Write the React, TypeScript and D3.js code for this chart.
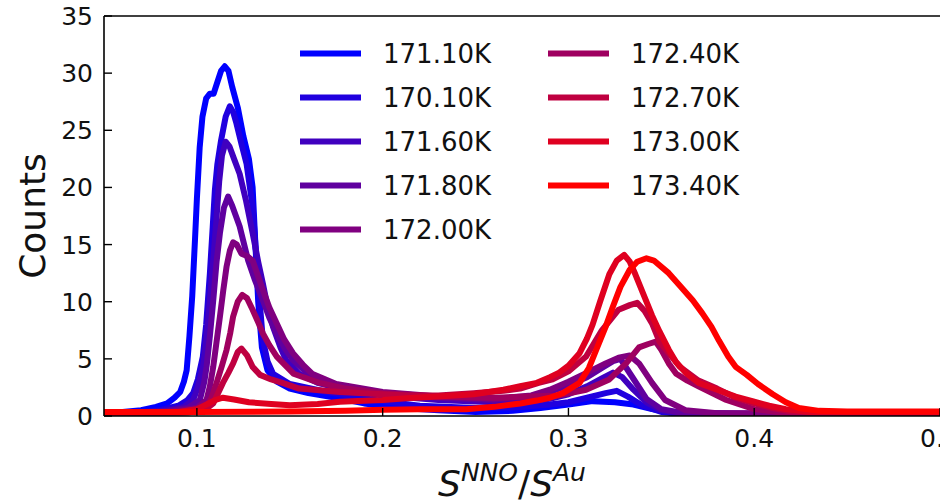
import React from "react";
import * as d3 from "d3";

const labels = ["171.10K", "170.10K", "171.60K", "171.80K", "172.00K", "172.40K", "172.70K", "173.00K", "173.40K"];

const s0: [number, number][] = [[0.05,0.3],[0.06,0.35],[0.07,0.5],[0.078,0.8],[0.084,1.1],[0.088,1.6],[0.091,2.1],[0.093,3.0],[0.0945,4.0],[0.096,7.0],[0.0975,10.5],[0.099,15.5],[0.1,19.0],[0.1015,23.5],[0.103,26.2],[0.105,27.8],[0.107,28.2],[0.109,28.2],[0.111,29.2],[0.113,30.2],[0.115,30.6],[0.117,30.2],[0.119,28.8],[0.122,27.0],[0.125,24.5],[0.128,22.5],[0.130,20.0],[0.1315,15.0],[0.133,10.0],[0.135,6.0],[0.138,4.0],[0.143,3.0],[0.15,2.4],[0.16,2.0],[0.175,1.6],[0.19,1.1],[0.21,0.7],[0.23,0.5],[0.25,0.35],[0.27,0.45],[0.285,0.7],[0.3,1.0],[0.313,1.3],[0.325,1.2],[0.335,1.0],[0.345,0.6],[0.355,0.3],[0.37,0.15],[0.4,0.15],[0.5,0.2]];
const s1: [number, number][] = [[0.05,0.25],[0.07,0.35],[0.08,0.5],[0.09,0.9],[0.095,1.4],[0.098,2.0],[0.1005,3.2],[0.1032,5.2],[0.105,8.0],[0.107,12.5],[0.1085,16.5],[0.1097,19.8],[0.111,22.0],[0.113,24.1],[0.1155,26.2],[0.1177,27.1],[0.1195,26.6],[0.1213,25.6],[0.124,23.8],[0.1267,22.1],[0.13,18.3],[0.132,13.9],[0.134,9.6],[0.1355,6.7],[0.138,4.8],[0.141,3.7],[0.15,2.8],[0.17,2.1],[0.2,1.3],[0.22,0.9],[0.25,0.7],[0.27,0.75],[0.29,1.0],[0.30,1.2],[0.31,1.6],[0.32,2.0],[0.326,2.2],[0.332,1.7],[0.34,0.9],[0.35,0.35],[0.36,0.2],[0.4,0.15],[0.5,0.2]];
const s2: [number, number][] = [[0.05,0.25],[0.07,0.3],[0.085,0.5],[0.093,0.8],[0.098,1.4],[0.1005,2.5],[0.1033,4.3],[0.105,6.5],[0.107,10.1],[0.109,14.0],[0.1106,17.4],[0.112,20.5],[0.1135,22.8],[0.1155,24.0],[0.1175,23.6],[0.12,22.5],[0.123,21.2],[0.1265,18.8],[0.13,16.0],[0.133,13.5],[0.1355,11.6],[0.138,9.6],[0.141,7.8],[0.145,6.0],[0.148,4.9],[0.155,3.7],[0.165,2.9],[0.18,2.3],[0.2,1.8],[0.23,1.4],[0.26,1.2],[0.28,1.3],[0.29,1.5],[0.30,1.9],[0.31,2.6],[0.318,3.3],[0.324,3.8],[0.329,3.4],[0.335,2.3],[0.342,1.2],[0.35,0.5],[0.36,0.25],[0.4,0.2],[0.5,0.2]];
const s3: [number, number][] = [[0.05,0.25],[0.08,0.35],[0.095,0.7],[0.1016,1.4],[0.104,3.0],[0.1052,4.3],[0.107,7.0],[0.1088,10.1],[0.1106,13.5],[0.1124,16.0],[0.1145,18.2],[0.1168,19.2],[0.119,18.4],[0.123,16.6],[0.1276,13.6],[0.131,12.0],[0.1356,10.1],[0.139,8.6],[0.143,7.2],[0.147,6.0],[0.1517,4.9],[0.162,3.4],[0.175,2.7],[0.2,2.0],[0.23,1.6],[0.26,1.4],[0.28,1.7],[0.29,2.1],[0.30,2.7],[0.31,3.4],[0.318,4.2],[0.324,4.8],[0.328,5.0],[0.334,3.5],[0.342,1.5],[0.35,0.6],[0.36,0.3],[0.4,0.2],[0.5,0.2]];
const s4: [number, number][] = [[0.05,0.25],[0.085,0.35],[0.1,0.7],[0.1052,1.4],[0.107,2.6],[0.1088,4.3],[0.1106,6.5],[0.1124,8.7],[0.1142,11.0],[0.116,13.1],[0.1178,14.5],[0.1195,15.2],[0.1215,15.0],[0.124,14.2],[0.127,14.0],[0.130,13.6],[0.1328,12.3],[0.1356,11.0],[0.139,9.5],[0.143,8.1],[0.147,6.7],[0.1517,5.5],[0.157,4.5],[0.162,3.7],[0.175,2.8],[0.2,2.1],[0.23,1.7],[0.26,1.5],[0.28,1.8],[0.29,2.3],[0.30,3.0],[0.31,3.8],[0.32,4.6],[0.327,5.1],[0.333,5.3],[0.338,4.6],[0.345,2.9],[0.352,1.4],[0.363,0.5],[0.38,0.25],[0.5,0.2]];
const s5: [number, number][] = [[0.05,0.25],[0.09,0.3],[0.1,0.4],[0.105,0.8],[0.108,1.6],[0.1106,2.9],[0.1135,4.4],[0.116,5.8],[0.118,7.3],[0.1195,8.7],[0.122,10.0],[0.1244,10.6],[0.127,10.3],[0.130,9.3],[0.133,8.2],[0.1356,7.2],[0.139,6.2],[0.143,5.2],[0.152,3.7],[0.166,2.9],[0.18,2.4],[0.2,2.0],[0.23,1.7],[0.26,1.6],[0.28,1.7],[0.295,1.8],[0.3095,2.3],[0.322,3.2],[0.331,4.6],[0.338,6.0],[0.343,6.3],[0.347,6.5],[0.35,5.8],[0.354,4.6],[0.358,3.7],[0.364,3.1],[0.37,2.6],[0.385,1.4],[0.4,0.6],[0.415,0.3],[0.5,0.25]];
const s6: [number, number][] = [[0.05,0.25],[0.095,0.3],[0.104,0.5],[0.1088,1.1],[0.114,2.9],[0.117,3.8],[0.1195,4.6],[0.122,5.6],[0.124,5.9],[0.127,5.3],[0.130,4.3],[0.134,3.6],[0.14,3.2],[0.146,2.9],[0.155,2.4],[0.177,2.1],[0.2,1.9],[0.213,1.8],[0.23,1.8],[0.249,2.0],[0.265,2.2],[0.274,2.4],[0.284,2.9],[0.2915,3.2],[0.30,3.9],[0.3095,5.2],[0.318,7.5],[0.327,9.3],[0.333,9.7],[0.337,9.9],[0.341,9.2],[0.345,8.1],[0.349,6.5],[0.354,5.5],[0.36,4.3],[0.37,3.1],[0.38,2.4],[0.39,1.6],[0.40,1.1],[0.41,0.7],[0.42,0.4],[0.44,0.3],[0.5,0.3]];
const s7: [number, number][] = [[0.05,0.3],[0.09,0.35],[0.1,0.6],[0.105,1.0],[0.11,1.4],[0.114,1.6],[0.12,1.45],[0.128,1.2],[0.14,1.05],[0.15,0.95],[0.165,1.05],[0.177,1.25],[0.2,1.4],[0.213,1.55],[0.23,1.7],[0.249,1.9],[0.265,2.3],[0.274,2.6],[0.283,2.9],[0.29,3.4],[0.295,3.8],[0.30,4.4],[0.306,5.5],[0.31,6.8],[0.313,8.0],[0.317,10.0],[0.322,12.4],[0.326,13.6],[0.330,14.1],[0.333,13.5],[0.336,12.4],[0.34,10.8],[0.345,8.8],[0.349,7.4],[0.354,5.8],[0.358,4.7],[0.363,3.8],[0.37,2.9],[0.38,2.3],[0.39,1.7],[0.399,1.3],[0.408,0.9],[0.417,0.6],[0.43,0.35],[0.5,0.3]];
const s8: [number, number][] = [[0.05,0.35],[0.1,0.35],[0.15,0.4],[0.18,0.45],[0.2,0.55],[0.22,0.6],[0.245,0.6],[0.26,0.8],[0.274,1.1],[0.283,1.35],[0.29,1.6],[0.297,2.0],[0.302,2.5],[0.306,2.9],[0.311,4.2],[0.315,5.8],[0.32,7.8],[0.324,9.6],[0.328,11.3],[0.333,12.8],[0.337,13.5],[0.342,13.8],[0.346,13.6],[0.354,12.5],[0.36,11.4],[0.367,10.1],[0.372,9.0],[0.377,7.8],[0.381,6.6],[0.386,5.2],[0.39,4.3],[0.396,3.6],[0.402,2.8],[0.41,1.9],[0.417,1.2],[0.424,0.7],[0.435,0.45],[0.45,0.4],[0.5,0.4]];

const seriesList = [s0, s1, s2, s3, s4, s5, s6, s7, s8];
const xTicks = [0.1, 0.2, 0.3, 0.4, 0.5];
const yTicks = [0, 5, 10, 15, 20, 25, 30, 35];

const W = 940, H = 504;
const L = 104, R = 940, T = 16, B = 416;
const FONT = "DejaVu Sans, Liberation Sans, sans-serif";

export default function App() {
  const x = d3.scaleLinear().domain([0.05, 0.5]).range([L, R]);
  const y = d3.scaleLinear().domain([0, 35]).range([B, T]);
  const color = (i: number) => d3.interpolateRgb("#0000ff", "#ff0000")(i / (labels.length - 1));
  const line = d3.line<[number, number]>().x(d => x(d[0])).y(d => y(d[1])).curve(d3.curveLinear);

  const legendRows = 5;
  return (
    <svg width={W} height={H} style={{ position: "absolute", left: 0, top: 0, background: "#fff" }} fontFamily={FONT}>
      <defs>
        <clipPath id="plot"><rect x={L} y={T} width={R - L + 10} height={B - T} /></clipPath>
      </defs>
      <g clipPath="url(#plot)">
        {seriesList.map((s, i) => (
          <path key={i} d={line(s) || ""} fill="none" stroke={color(i)} strokeWidth={6}
            strokeLinejoin="round" strokeLinecap="round" />
        ))}
      </g>
      <line x1={L} x2={L} y1={T} y2={B} stroke="#000" strokeWidth={1.6} />
      <line x1={L} x2={R} y1={B} y2={B} stroke="#000" strokeWidth={1.6} />
      <line x1={L} x2={R} y1={T} y2={T} stroke="#000" strokeWidth={1.6} />
      {yTicks.map(t => (
        <g key={t}>
          <line x1={L} x2={L + 8} y1={y(t)} y2={y(t)} stroke="#000" strokeWidth={1.4} />
          <text x={L - 11} y={y(t) + 9} textAnchor="end" fontSize={25} fill="#111">{t}</text>
        </g>
      ))}
      {xTicks.map(t => (
        <g key={t}>
          <line x1={x(t)} x2={x(t)} y1={B} y2={B - 8} stroke="#000" strokeWidth={1.4} />
          <text x={x(t)} y={447} textAnchor="middle" fontSize={25} fill="#111">{t.toFixed(1)}</text>
        </g>
      ))}
      <text transform="translate(45,216) rotate(-90)" textAnchor="middle" fontSize={36} fill="#111">Counts</text>
      <text x={512} y={496} textAnchor="middle" fontSize={36} fill="#111">
        <tspan fontStyle="italic">S</tspan>
        <tspan fontStyle="italic" fontSize={25} dy={-15}>NNO</tspan>
        <tspan dy={15}>/</tspan>
        <tspan fontStyle="italic">S</tspan>
        <tspan fontStyle="italic" fontSize={25} dy={-15}>Au</tspan>
      </text>
      {labels.map((lab, i) => {
        const col = Math.floor(i / legendRows);
        const row = i % legendRows;
        const lx = col === 0 ? 300 : 548;
        const ly = 53.5 + row * 44;
        return (
          <g key={lab}>
            <line x1={lx} x2={lx + 61} y1={ly} y2={ly} stroke={color(i)} strokeWidth={6} />
            <text x={lx + 83} y={ly + 9.5} fontSize={26} fill="#111">{lab}</text>
          </g>
        );
      })}
    </svg>
  );
}
